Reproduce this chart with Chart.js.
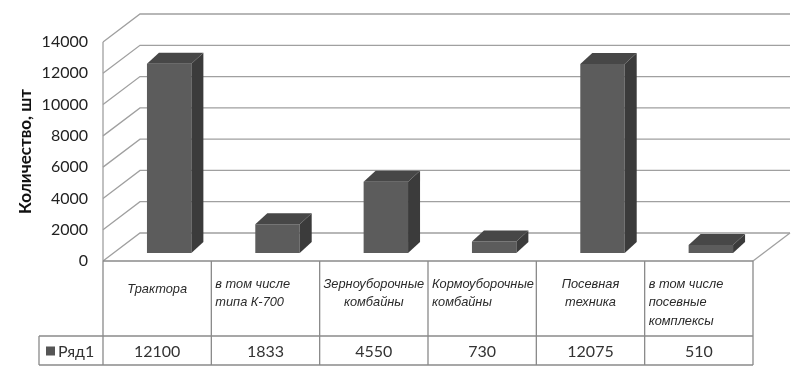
<!DOCTYPE html>
<html>
<head>
<meta charset="utf-8">
<script src="https://cdn.jsdelivr.net/npm/chart.js@4"></script>
<style>
  html, body { margin: 0; padding: 0; background: #fff; }
  #wrap { width: 800px; height: 375px; }
</style>
</head>
<body>
<div id="wrap"><canvas id="chart" width="800" height="375"></canvas></div>
<script>
// data
const categories = [
  ["Трактора"],
  ["в том числе", "типа К-700"],
  ["Зерноуборочные", "комбайны"],
  ["Кормоуборочные", "комбайны"],
  ["Посевная", "техника"],
  ["в том числе", "посевные", "комплексы"],
];
const seriesName = "Ряд1";
const values = [12100, 1833, 4550, 730, 12075, 510];
const yMin = 0;
const yMax = 14000;
const yStep = 2000;

// 3d look
const DEPTH_X = 37, DEPTH_Y = -28;      // wall depth
const BAR_SHIFT_X = 12, BAR_SHIFT_Y = -8; // bars sit inside the box
const BAR_DX = 12, BAR_DY = -11;         // bar thickness
const GRID = "#a0a0a0";
const TABLE_LINE = "#8a8a8a";
const labelAlign = ["center", "left", "center", "left", "center", "left"];

function poly(ctx, pts, fill) {
  ctx.beginPath();
  ctx.moveTo(pts[0][0], pts[0][1]);
  for (let i = 1; i < pts.length; i++) ctx.lineTo(pts[i][0], pts[i][1]);
  ctx.closePath();
  ctx.fillStyle = fill;
  ctx.fill();
}

const box3d = {
  id: "box3d",
  beforeDatasetsDraw(chart) {
    const { ctx, chartArea: a, scales: { y } } = chart;
    ctx.save();
    ctx.strokeStyle = GRID;
    ctx.lineWidth = 1.3;
    // back wall + left wall lines for each tick
    y.ticks.forEach((t) => {
      const py = y.getPixelForValue(t.value);
      ctx.beginPath();
      ctx.moveTo(a.left, py);
      ctx.lineTo(a.left + DEPTH_X, py + DEPTH_Y);
      ctx.lineTo(a.right + DEPTH_X, py + DEPTH_Y);
      ctx.stroke();
    });
    // floor right edge
    ctx.beginPath();
    ctx.moveTo(a.right + DEPTH_X, a.bottom + DEPTH_Y);
    ctx.lineTo(a.right, a.bottom);
    ctx.stroke();
    // front left edge
    ctx.beginPath();
    ctx.moveTo(a.left, a.top);
    ctx.lineTo(a.left, a.bottom);
    ctx.stroke();
    ctx.restore();

    ctx.save();
    ctx.translate(BAR_SHIFT_X, BAR_SHIFT_Y);
  },
  afterDatasetsDraw(chart) {
    const { ctx } = chart;
    ctx.restore();
    const meta = chart.getDatasetMeta(0);
    meta.data.forEach((bar) => {
      const p = bar.getProps(["x", "y", "base", "width"], true);
      const l = p.x - p.width / 2 + BAR_SHIFT_X;
      const r = p.x + p.width / 2 + BAR_SHIFT_X;
      const top = p.y + BAR_SHIFT_Y;
      const bot = p.base + BAR_SHIFT_Y;
      poly(ctx, [[r, top], [r + BAR_DX, top + BAR_DY], [r + BAR_DX, bot + BAR_DY], [r, bot]], "#3b3b3b");
      poly(ctx, [[l, top], [r, top], [r + BAR_DX, top + BAR_DY], [l + BAR_DX, top + BAR_DY]], "#474747");
    });
  },
  afterDraw(chart) {
    const { ctx, chartArea: a, scales: { x } } = chart;
    const n = categories.length;
    const colW = (a.right - a.left) / n;
    const rowTop = a.bottom;
    const rowMid = 336;
    const rowBot = 365;
    const legendLeft = 39;

    ctx.save();
    ctx.strokeStyle = TABLE_LINE;
    ctx.lineWidth = 1.3;
    ctx.beginPath();
    ctx.moveTo(a.left, rowTop); ctx.lineTo(a.right, rowTop);
    ctx.moveTo(legendLeft, rowMid); ctx.lineTo(a.right, rowMid);
    ctx.moveTo(legendLeft, rowBot); ctx.lineTo(a.right, rowBot);
    ctx.moveTo(legendLeft, rowMid); ctx.lineTo(legendLeft, rowBot);
    ctx.moveTo(a.left, a.bottom); ctx.lineTo(a.left, rowBot);
    for (let i = 1; i <= n; i++) {
      const bx = a.left + colW * i;
      ctx.moveTo(bx, rowTop); ctx.lineTo(bx, rowBot);
    }
    ctx.stroke();

    // category labels
    ctx.fillStyle = "#2a2a2a";
    ctx.font = "italic 12.8px 'Liberation Sans', Arial, sans-serif";
    ctx.textBaseline = "middle";
    categories.forEach((lines, i) => {
      const cx = x.getPixelForValue(i);
      const left = cx - colW / 2;
      const y0 = lines.length === 1 ? 289 : 284;
      lines.forEach((txt, k) => {
        const ty = y0 + k * 18.5;
        if (labelAlign[i] === "left") {
          ctx.textAlign = "left";
          ctx.fillText(txt, left + 4, ty);
        } else {
          ctx.textAlign = "center";
          ctx.fillText(txt, cx, ty);
        }
      });
    });

    // legend key + values
    const vy = (rowMid + rowBot) / 2 + 1;
    ctx.fillStyle = "#555555";
    ctx.fillRect(46, vy - 5, 9, 9);
    ctx.fillStyle = "#333";
    ctx.font = "16px Lato, sans-serif";
    ctx.textAlign = "left";
    ctx.fillText(seriesName, 58, vy);
    ctx.textAlign = "center";
    values.forEach((v, i) => {
      ctx.fillText(String(v), x.getPixelForValue(i), vy);
    });
    ctx.restore();
  },
};

new Chart(document.getElementById("chart"), {
  type: "bar",
  data: {
    labels: categories,
    datasets: [
      {
        label: seriesName,
        data: values,
        backgroundColor: "#5c5c5c",
        borderWidth: 0,
        barPercentage: 0.41,
        categoryPercentage: 1,
      },
    ],
  },
  options: {
    responsive: false,
    animation: false,
    layout: { padding: { top: 42, right: 47, bottom: 114, left: 0 } },
    plugins: {
      legend: { display: false },
      tooltip: { enabled: false },
    },
    scales: {
      x: { display: false },
      y: {
        min: yMin,
        max: yMax,
        ticks: {
          stepSize: yStep,
          padding: 15,
          color: "#222",
          font: { family: "Lato", size: 16 },
          callback: (v) => String(v),
        },
        grid: { display: false, drawTicks: false },
        border: { display: false },
        title: {
          display: true,
          text: "Количество, шт",
          color: "#111",
          padding: { top: 15, bottom: 0 },
          font: { family: "Lato", size: 17, weight: "bold" },
        },
        afterFit(scale) {
          scale.width = 103;
        },
      },
    },
  },
  plugins: [box3d],
});
</script>
</body>
</html>
